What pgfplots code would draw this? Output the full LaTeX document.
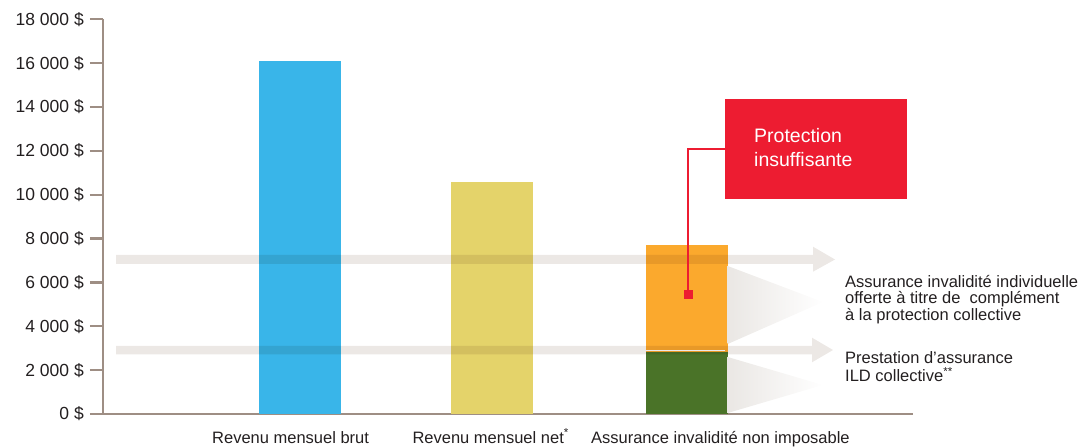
\documentclass[border=0pt]{standalone}
\usepackage{fontspec}
\setmainfont{Liberation Sans}
\usepackage{pgfplots}
\pgfplotsset{compat=1.18}
\definecolor{axisgray}{RGB}{158,142,132}
\definecolor{txt}{RGB}{35,31,32}
\definecolor{cblue}{RGB}{57,181,233}
\definecolor{cyellow}{RGB}{228,211,106}
\definecolor{cgreen}{RGB}{74,115,40}
\definecolor{corange}{RGB}{251,169,45}
\definecolor{cred}{RGB}{237,28,49}
\definecolor{carrow}{RGB}{236,232,229}
\definecolor{cshade}{RGB}{234,231,228}
\newcommand{\lbl}{\fontsize{16.5}{16.5}\selectfont}
\newcommand{\tlbl}{\fontsize{17.5}{17.5}\selectfont}
\begin{document}
\begin{tikzpicture}
\useasboundingbox (0,0) rectangle (1084pt,447pt);
\begin{axis}[
  at={(103pt,33pt)}, anchor=south west,
  scale only axis, width=810pt, height=394.7pt,
  xmin=0, xmax=810, ymin=0, ymax=18000,
  scaled y ticks=false,
  axis x line*=bottom, axis y line*=left,
  axis line style={-, line width=2.5pt, color=axisgray},
  xtick=\empty,
  ytick={0,2000,4000,6000,8000,10000,12000,14000,16000,18000},
  yticklabels={0 \$,2 000 \$,4 000 \$,6 000 \$,8 000 \$,10 000 \$,12 000 \$,14 000 \$,16 000 \$,18 000 \$},
  tick align=outside, major tick length=13pt,
  y tick style={line width=2.4pt, color=axisgray},
  yticklabel style={font=\tlbl, text=txt, inner sep=0pt, xshift=-6pt},
  clip=false,
]
\addplot[ybar, bar shift=0pt, bar width=82pt, fill=cblue, draw=none] coordinates {(197,16100)};
\addplot[ybar, bar shift=0pt, bar width=82pt, fill=cyellow, draw=none] coordinates {(389,10600)};
\addplot[ybar, bar shift=0pt, bar width=82pt, fill=corange, draw=none] coordinates {(584,7700)};
\addplot[ybar, bar shift=0pt, bar width=82pt, fill=cgreen, draw=none] coordinates {(584,2850)};
\end{axis}
% separator between stacked parts
\draw[white, line width=1pt] (643pt,96.2pt) -- (725pt,96.2pt);
% gradient triangles
\shade[left color=cshade, right color=white] (727.7pt,181pt) -- (823pt,145pt) -- (727.7pt,103pt) -- cycle;
\shade[left color=cshade, right color=white] (727.7pt,90pt) -- (823pt,62pt) -- (727.7pt,34pt) -- cycle;
% arrows
\fill[carrow, blend mode=multiply] (116pt,183pt) -- (813pt,183pt) -- (813pt,175.3pt) -- (835pt,187.5pt) -- (813pt,200.3pt) -- (813pt,192pt) -- (116pt,192pt) -- cycle;
\fill[carrow, blend mode=multiply] (116pt,92.7pt) -- (812pt,92.7pt) -- (812pt,84.7pt) -- (833pt,97pt) -- (812pt,109.3pt) -- (812pt,101pt) -- (116pt,101pt) -- cycle;
% callout
\fill[cred] (725pt,248pt) rectangle (907pt,348pt);
\node[anchor=base west, inner sep=0pt, text=white, font=\fontsize{19.5}{19.5}\selectfont] at (754pt,304.3pt) {Protection};
\node[anchor=base west, inner sep=0pt, text=white, font=\fontsize{19.5}{19.5}\selectfont] at (754pt,280.7pt) {insuffisante};
\draw[cred, line width=2pt] (725pt,298.3pt) -- (688.3pt,298.3pt) -- (688.3pt,153pt);
\begin{axis}[
  at={(103pt,33pt)}, anchor=south west,
  scale only axis, width=810pt, height=394.7pt,
  xmin=0, xmax=810, ymin=0, ymax=18000,
  hide axis, clip=false,
]
\addplot[only marks, mark=square*, mark size=4pt, color=cred] coordinates {(585.3,5450)};
\end{axis}
% category labels
\node[anchor=base, inner sep=0pt, text=txt, font=\lbl] at (290.6pt,4pt) {Revenu mensuel brut};
\node[anchor=base, inner sep=0pt, text=txt, font=\lbl] at (490.7pt,4pt) {Revenu mensuel net\textsuperscript{*}};
\node[anchor=base, inner sep=0pt, text=txt, font=\lbl] at (720.4pt,4pt) {Assurance invalidité non imposable};
% right labels
\node[anchor=base west, inner sep=0pt, text=txt, font=\lbl] at (845pt,159.5pt) {Assurance invalidité individuelle};
\node[anchor=base west, inner sep=0pt, text=txt, font=\lbl] at (845pt,143pt) {offerte à titre de\ \ complément};
\node[anchor=base west, inner sep=0pt, text=txt, font=\lbl] at (845pt,126.5pt) {à la protection collective};
\node[anchor=base west, inner sep=0pt, text=txt, font=\lbl] at (845pt,83pt) {Prestation d’assurance};
\node[anchor=base west, inner sep=0pt, text=txt, font=\lbl] at (845pt,65.5pt) {ILD collective\textsuperscript{**}};
\end{tikzpicture}
\end{document}
